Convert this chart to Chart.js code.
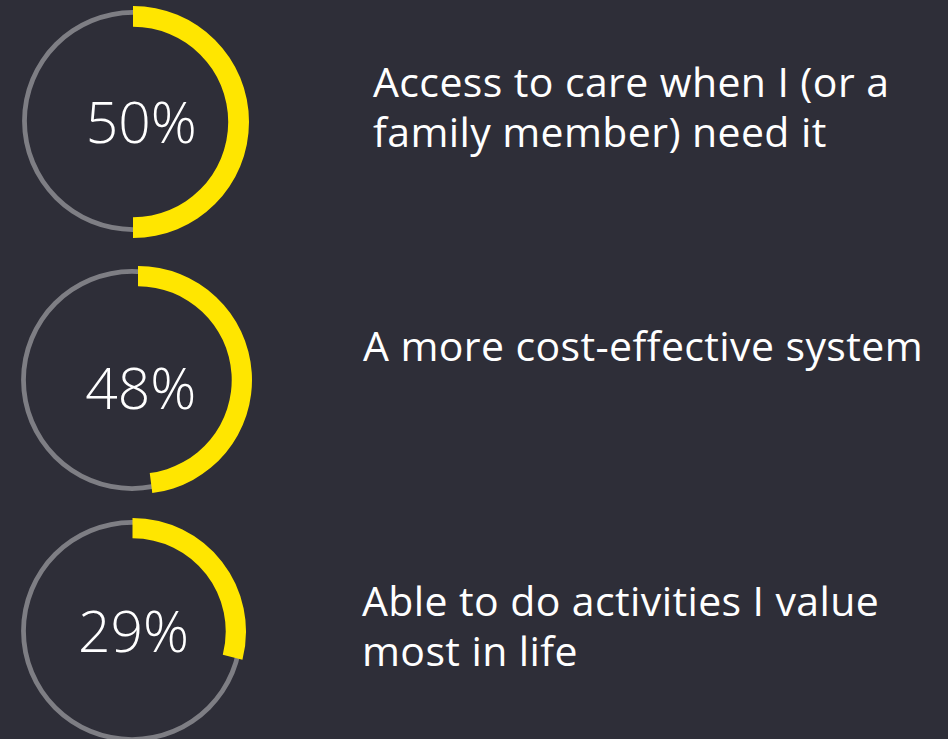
<!DOCTYPE html>
<html>
<head>
<meta charset="utf-8">
<script src="https://cdn.jsdelivr.net/npm/chart.js@4/dist/chart.umd.min.js"></script>
<style>
  html, body { margin: 0; padding: 0; }
  body { width: 948px; height: 739px; background: #2e2e38; overflow: hidden; position: relative; font-family: "Open Sans", "Lato", sans-serif; }
  .ring { position: absolute; }
  .pct { position: absolute; color: #ffffff; font-weight: 300; white-space: nowrap; transform: translateX(-50%); }
  .lbl { position: absolute; color: #ffffff; font-weight: 400; white-space: nowrap; }
</style>
</head>
<body>
<script>
// ---- data ----
const categories = [
  "Access to care when I (or a family member) need it",
  "A more cost-effective system",
  "Able to do activities I value most in life"
];
const labelLines = [
  ["Access to care when I (or a", "family member) need it"],
  ["A more cost-effective system"],
  ["Able to do activities I value", "most in life"]
];
const values = [50, 48, 29];
const maxValue = 100;

// ---- layout (positions only) ----
const grayRings = [ {cx: 132.7, cy: 121.0, r: 110}, {cx: 132.4, cy: 380.4, r: 110}, {cx: 131.8, cy: 631.0, r: 110} ];
const arcRings  = [ {cx: 133.3, cy: 121.7, ro: 116, ri: 98.5}, {cx: 138.3, cy: 379.7, ro: 114, ri: 97}, {cx: 132.3, cy: 631.3, ro: 113.5, ri: 96.5} ];
const pctPos    = [ {cx: 141.3, top: 93.4}, {cx: 140.7, top: 359.4}, {cx: 133.5, top: 602.4} ];
const lblPos    = [ {x: 373, top: 57.3}, {x: 363, top: 321.3}, {x: 362, top: 576.3} ];

const YELLOW = '#ffe600';
const GRAY = '#7e7e84';

function makeChart(cx, cy, size, datasets) {
  const wrap = document.createElement('div');
  wrap.className = 'ring';
  wrap.style.left = (cx - size / 2) + 'px';
  wrap.style.top = (cy - size / 2) + 'px';
  wrap.style.width = size + 'px';
  wrap.style.height = size + 'px';
  const cv = document.createElement('canvas');
  wrap.appendChild(cv);
  document.body.appendChild(wrap);
  return new Chart(cv, {
    type: 'doughnut',
    data: { labels: datasets[0].labels, datasets: datasets.map(d => d.ds) },
    options: {
      responsive: true,
      maintainAspectRatio: false,
      animation: false,
      layout: { padding: 0 },
      plugins: { legend: { display: false }, tooltip: { enabled: false } },
      events: []
    }
  });
}

values.forEach((v, i) => {
  const g = grayRings[i];
  // thin gray full circle
  makeChart(g.cx, g.cy, 2 * g.r + 8, [{
    labels: ['all'],
    ds: { data: [maxValue], backgroundColor: [GRAY], borderWidth: 0, radius: g.r + 0.9, cutout: g.r - 0.9 }
  }]);
  const a = arcRings[i];
  // yellow value arc
  makeChart(a.cx, a.cy, 2 * a.ro + 8, [{
    labels: [categories[i], 'rest'],
    ds: { data: [v, maxValue - v], backgroundColor: [YELLOW, 'rgba(0,0,0,0)'], borderWidth: 0, radius: a.ro, cutout: a.ri }
  }]);

  const p = document.createElement('div');
  p.className = 'pct';
  p.style.left = pctPos[i].cx + 'px';
  p.style.top = pctPos[i].top + 'px';
  p.style.fontSize = '57px';
  p.style.lineHeight = '57px';
  p.textContent = v + '%';
  document.body.appendChild(p);

  const l = document.createElement('div');
  l.className = 'lbl';
  l.style.left = lblPos[i].x + 'px';
  l.style.top = lblPos[i].top + 'px';
  l.style.fontSize = '41px';
  l.style.lineHeight = '49.5px';
  l.style.letterSpacing = '0.4px';
  l.innerHTML = labelLines[i].map(s => s.replace(/&/g, '&amp;').replace(/</g, '&lt;')).join('<br>');
  document.body.appendChild(l);
});
</script>
</body>
</html>
